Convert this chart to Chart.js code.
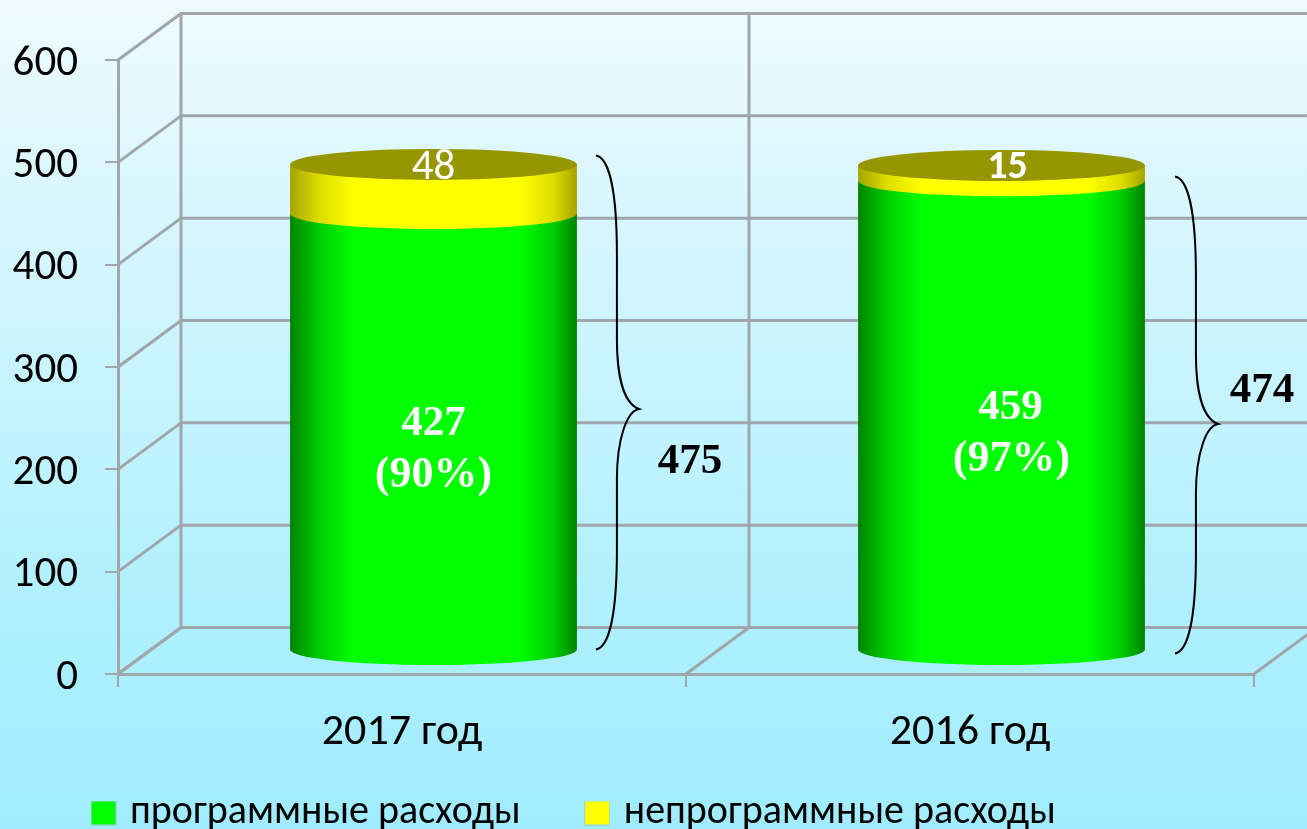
<!DOCTYPE html>
<html lang="ru">
<head>
<meta charset="utf-8">
<title>Расходы</title>
<style>html,body{margin:0;padding:0;background:#a9eefe;overflow:hidden}canvas{display:block}</style>
<script src="https://cdn.jsdelivr.net/npm/chart.js@4/dist/chart.umd.min.js"></script>
</head>
<body>
<canvas id="c" width="1307" height="829"></canvas>
<script>
const categories = ['2017 год', '2016 год'];
const programValues = [427, 459];
const nonProgramValues = [48, 15];
const totals = [475, 474];
const programShares = ['(90%)', '(97%)'];
const seriesNames = ['программные расходы', 'непрограммные расходы'];
const yTicks = [0, 100, 200, 300, 400, 500, 600];

const SANS = 'Carlito, Lato, "Open Sans", sans-serif';
const SERIF = '"Liberation Serif", "Times New Roman", serif';
const DEPTH_X = 63, DEPTH_Y = 46.5, CYL_X = 31.5, CYL_Y = 23.5, RY = 15.5;
const GRID = '#a0a6aa';

function swatch(color) {
  const s = document.createElement('canvas');
  s.width = 26; s.height = 25;
  const g = s.getContext('2d');
  g.fillStyle = 'rgba(150,170,170,.35)';
  g.fillRect(0, 0, 26, 25);
  g.fillStyle = color;
  g.fillRect(1, 1, 24, 23);
  return s;
}
function shade(ctx, left, right, dark, mid, bright) {
  const g = ctx.createLinearGradient(left, 0, right, 0);
  g.addColorStop(0, dark);
  g.addColorStop(0.1, mid);
  g.addColorStop(0.22, bright);
  g.addColorStop(0.8, bright);
  g.addColorStop(0.92, mid);
  g.addColorStop(1, dark);
  return g;
}
const themes = [
  {dark: '#008400', mid: '#00cc00', bright: '#00ff00'},
  {dark: '#a4a400', mid: '#dcdc00', bright: '#ffff00'}
];
function line(ctx, x1, y1, x2, y2, w) {
  ctx.lineWidth = w;
  ctx.beginPath(); ctx.moveTo(x1, y1); ctx.lineTo(x2, y2); ctx.stroke();
}
function drawBrace(ctx, x, top, tip, bottom) {
  const sx = x + 21, px = x + 43;
  ctx.strokeStyle = '#000'; ctx.lineWidth = 2;
  ctx.beginPath();
  ctx.moveTo(x, top);
  ctx.bezierCurveTo(x + 12, top + 2, sx, top + 30, sx, top + 100);
  ctx.lineTo(sx, tip - 70);
  ctx.bezierCurveTo(sx, tip - 35, sx + 6, tip - 6, px, tip);
  ctx.bezierCurveTo(sx + 10, tip + 2, sx, tip + 30, sx, tip + 70);
  ctx.lineTo(sx, bottom - 100);
  ctx.bezierCurveTo(sx, bottom - 30, x + 12, bottom - 2, x, bottom);
  ctx.stroke();
}
function text(ctx, str, x, y, font, color) {
  ctx.font = font; ctx.fillStyle = color;
  ctx.textAlign = 'center'; ctx.textBaseline = 'middle';
  ctx.fillText(str, x, y);
}

const scene = {
  id: 'scene',
  beforeLayout(chart) {
    const lg = chart.legend;
    if (lg && !lg._wrapped) {
      const fit = lg.fit;
      lg.fit = function () { fit.call(this); this.height = 60; };
      lg._wrapped = true;
    }
  },
  afterLayout(chart) {
    const lg = chart.legend, p = lg.options.labels.padding;
    lg.left = 97 - p;
    lg.top = 813 - p - 20;
  },
  beforeDraw(chart) {
    const {ctx, width, height} = chart;
    const g = ctx.createLinearGradient(0, 0, 0, height);
    g.addColorStop(0, '#eefbff');
    g.addColorStop(0.25, '#d9f6ff');
    g.addColorStop(0.75, '#aef0ff');
    g.addColorStop(1, '#a0ecfe');
    ctx.fillStyle = g;
    ctx.fillRect(0, 0, width, height);
  },
  beforeDatasetDraw() { return false; },
  beforeDatasetsDraw(chart) {
    const {ctx} = chart, x = chart.scales.x, y = chart.scales.y;
    const left = x.left, right = x.right;
    ctx.save();
    ctx.strokeStyle = GRID;
    ctx.lineCap = 'round';
    yTicks.forEach(v => {
      const py = y.getPixelForValue(v);
      line(ctx, left, py, left + DEPTH_X, py - DEPTH_Y, 3);
      line(ctx, left + DEPTH_X, py - DEPTH_Y, right + DEPTH_X, py - DEPTH_Y, 3);
    });
    const base = y.getPixelForValue(0), top = y.getPixelForValue(600);
    [left, (left + right) / 2, right].forEach(px => {
      line(ctx, px, base, px + DEPTH_X, base - DEPTH_Y, 3);
      line(ctx, px + DEPTH_X, base - DEPTH_Y, px + DEPTH_X, top - DEPTH_Y, 3);
    });
    ctx.restore();
  },
  afterDatasetsDraw(chart) {
    const {ctx} = chart;
    ctx.save();
    chart.data.datasets.forEach((ds, di) => {
      chart.getDatasetMeta(di).data.forEach(bar => {
        const {x, y, base, width} = bar.getProps(['x', 'y', 'base', 'width']);
        const cx = x + CYL_X, top = y - CYL_Y, bot = base - CYL_Y, rx = width / 2;
        const t = themes[di];
        ctx.fillStyle = shade(ctx, cx - rx, cx + rx, t.dark, t.mid, t.bright);
        ctx.beginPath();
        ctx.moveTo(cx - rx, top);
        ctx.lineTo(cx + rx, top);
        ctx.lineTo(cx + rx, bot);
        ctx.ellipse(cx, bot, rx, RY, 0, 0, Math.PI);
        ctx.closePath();
        ctx.fill();
        if (di === chart.data.datasets.length - 1) {
          ctx.fillStyle = '#969600';
          ctx.beginPath();
          ctx.ellipse(cx, top, rx, RY, 0, 0, Math.PI * 2);
          ctx.fill();
        }
      });
    });
    const g0 = chart.getDatasetMeta(0).data, g1 = chart.getDatasetMeta(1).data;
    const bold = 'bold 43px ' + SERIF, boldWide = 'bold 44px ' + SERIF;
    const lab = g0.map((b, i) => ({cx: b.x + CYL_X, mid: (b.y + b.base) / 2, top: g1[i].y - CYL_Y, right: b.x + CYL_X + b.width / 2, base: b.base - CYL_Y}));
    text(ctx, String(programValues[0]), lab[0].cx, lab[0].mid - 31, bold, '#fff');
    text(ctx, programShares[0], lab[0].cx, lab[0].mid + 21, boldWide, '#fff');
    text(ctx, String(programValues[1]), lab[1].cx + 9, lab[1].mid - 31, bold, '#fff');
    text(ctx, programShares[1], lab[1].cx + 10, lab[1].mid + 21, boldWide, '#fff');
    text(ctx, String(nonProgramValues[0]), lab[0].cx, lab[0].top + 4, '43px ' + SANS, '#fff');
    text(ctx, String(nonProgramValues[1]), lab[1].cx + 6, lab[1].top + 3, 'bold 40px ' + SANS, '#fff');
    drawBrace(ctx, lab[0].right + 19, lab[0].top - 9, 409, lab[0].base);
    drawBrace(ctx, lab[1].right + 30, lab[1].top + 11, 424, lab[1].base + 4);
    text(ctx, String(totals[0]), 690, 462, bold, '#000');
    text(ctx, String(totals[1]), 1262, 391, bold, '#000');
    ctx.restore();
  }
};

new Chart(document.getElementById('c'), {
  type: 'bar',
  data: {
    labels: categories,
    datasets: [
      {label: seriesNames[0], data: programValues, backgroundColor: '#00ff00', pointStyle: swatch('#00ff00')},
      {label: seriesNames[1], data: nonProgramValues, backgroundColor: '#ffff00', pointStyle: swatch('#ffff00')}
    ]
  },
  options: {
    responsive: false,
    animation: false,
    layout: {padding: {left: 0, top: 60, right: 53, bottom: 0}},
    datasets: {bar: {categoryPercentage: 1, barPercentage: 0.505}},
    plugins: {
      title: {display: false},
      tooltip: {enabled: false},
      legend: {
        position: 'bottom',
        align: 'start',
        labels: {
          color: '#000',
          font: {family: SANS, size: 40},
          usePointStyle: true,
          pointStyleWidth: 13,
          padding: 70,
          generateLabels(chart) {
            return chart.data.datasets.map((d, i) => ({
              text: d.label, fillStyle: d.backgroundColor, strokeStyle: d.backgroundColor,
              lineWidth: 0, pointStyle: d.pointStyle, datasetIndex: i, hidden: false, fontColor: '#000'
            }));
          }
        }
      }
    },
    scales: {
      x: {
        stacked: true,
        afterFit(s) { s.height = 95; },
        grid: {drawOnChartArea: false, color: GRID, tickLength: 13, lineWidth: 2},
        border: {display: true, color: GRID, width: 3},
        ticks: {color: '#000', font: {family: SANS, size: 44}, padding: 20, maxRotation: 0}
      },
      y: {
        stacked: true,
        min: 0, max: 600,
        afterFit(s) { s.width = 118; },
        afterBuildTicks(s) { s.ticks = yTicks.map(v => ({value: v})); },
        grid: {drawOnChartArea: false, color: GRID, tickLength: 13, lineWidth: 2},
        border: {display: true, color: GRID, width: 3},
        ticks: {color: '#000', font: {family: SANS, size: 43}, padding: 27, labelOffset: 4}
      }
    }
  },
  plugins: [scene]
});
</script>
</body>
</html>
